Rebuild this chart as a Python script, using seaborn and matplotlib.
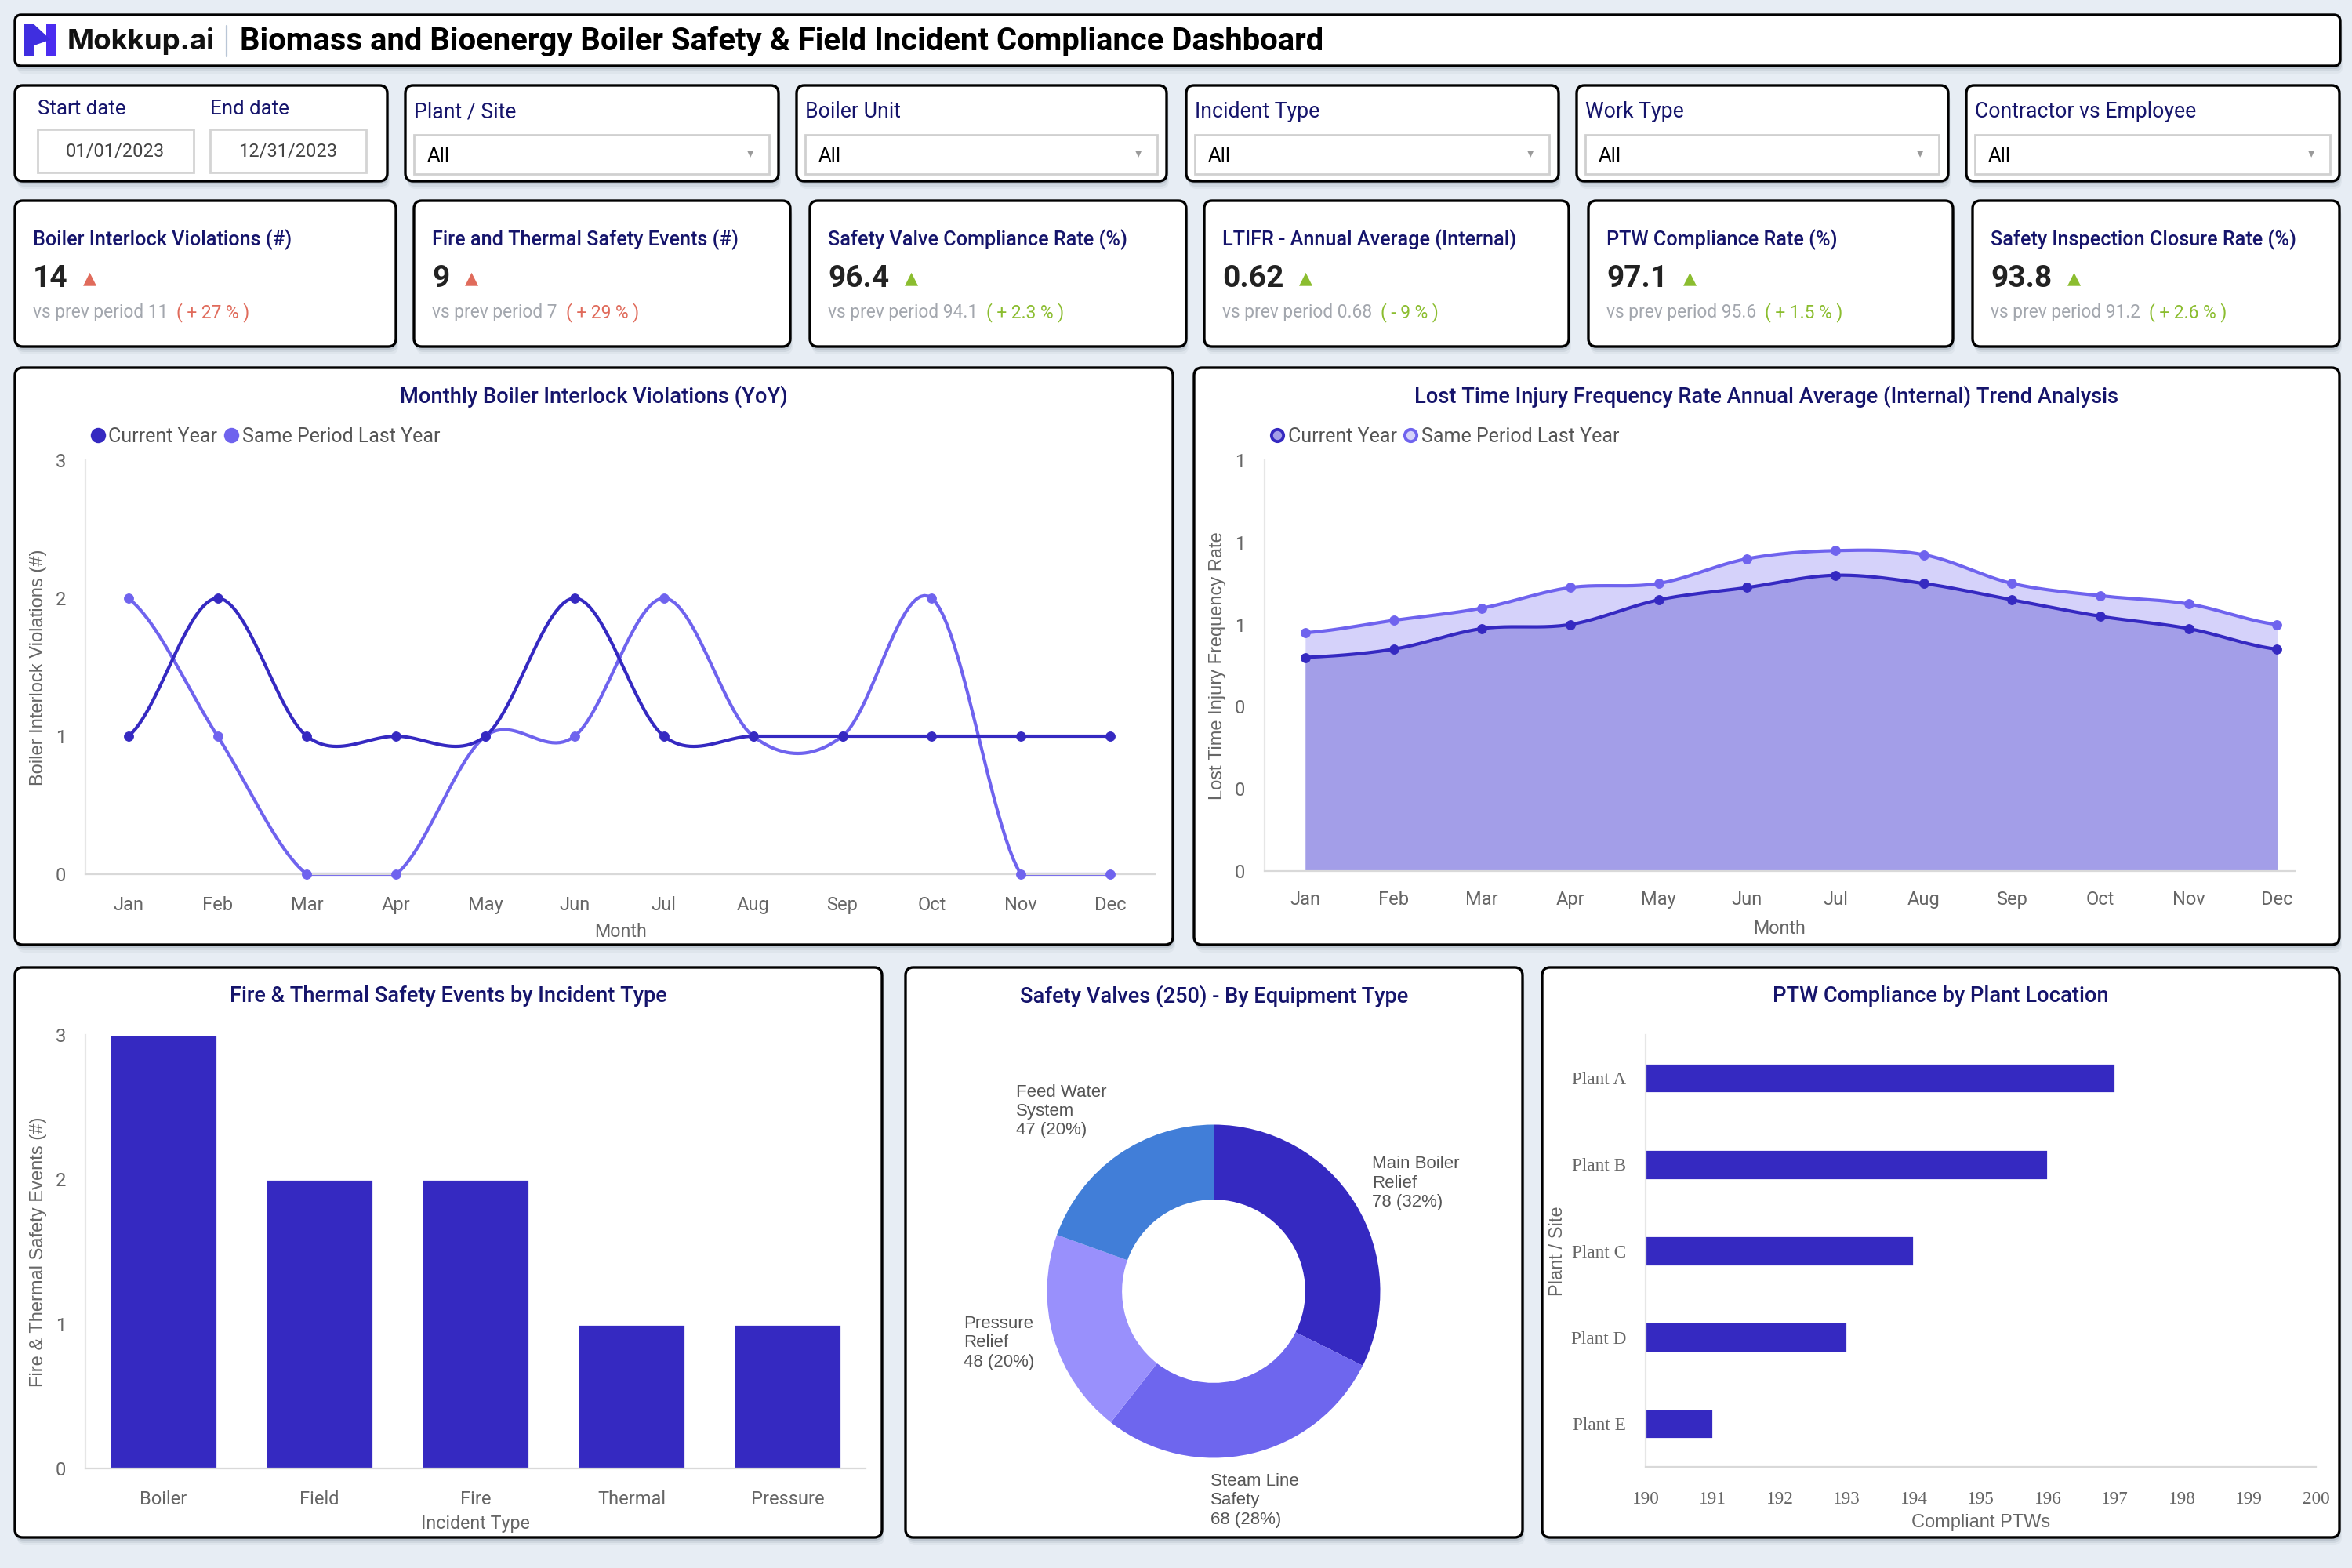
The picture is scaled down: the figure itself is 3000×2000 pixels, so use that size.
import numpy as np
import pandas as pd
import matplotlib
matplotlib.use("Agg")
import matplotlib.pyplot as plt
import seaborn as sns
from matplotlib.patches import FancyBboxPatch, Polygon, Rectangle
from matplotlib.lines import Line2D

sns.set_theme(style="white")
plt.rcParams["font.family"] = ["Roboto", "DejaVu Sans"]

# ---------------------------------------------------------------- data
months = ["Jan", "Feb", "Mar", "Apr", "May", "Jun", "Jul", "Aug", "Sep", "Oct", "Nov", "Dec"]
interlock_cur = [1, 2, 1, 1, 1, 2, 1, 1, 1, 1, 1, 1]
interlock_prev = [2, 1, 0, 0, 1, 1, 2, 1, 1, 2, 0, 0]
ltifr_cur = [0.52, 0.54, 0.59, 0.60, 0.66, 0.69, 0.72, 0.70, 0.66, 0.62, 0.59, 0.54]
ltifr_prev = [0.58, 0.61, 0.64, 0.69, 0.70, 0.76, 0.78, 0.77, 0.70, 0.67, 0.65, 0.60]
incident_types = ["Boiler", "Field", "Fire", "Thermal", "Pressure"]
incident_events = [3, 2, 2, 1, 1]
valve_types = ["Main Boiler\nRelief", "Steam Line\nSafety", "Pressure\nRelief", "Feed Water\nSystem"]
valve_counts = [78, 68, 48, 47]
plants = ["Plant A", "Plant B", "Plant C", "Plant D", "Plant E"]
ptw_compliant = [197, 196, 194, 193, 191]

kpi_titles = ["Boiler Interlock Violations (#)", "Fire and Thermal Safety Events (#)",
              "Safety Valve Compliance Rate (%)", "LTIFR - Annual Average (Internal)",
              "PTW Compliance Rate (%)", "Safety Inspection Closure Rate (%)"]
kpi_values = ["14", "9", "96.4", "0.62", "97.1", "93.8"]
kpi_prev = ["11", "7", "94.1", "0.68", "95.6", "91.2"]
kpi_delta = ["+ 27 %", "+ 29 %", "+ 2.3 %", "- 9 %", "+ 1.5 %", "+ 2.6 %"]
kpi_good = [False, False, True, True, True, True]
filter_labels = ["Plant / Site", "Boiler Unit", "Incident Type", "Work Type", "Contractor vs Employee"]
start_date, end_date = "01/01/2023", "12/31/2023"

# ---------------------------------------------------------------- style
BG = "#e7edf4"
NAVY = "#15146b"
GREY = "#666666"
C_CUR = "#3529c1"
C_PREV = "#6f63ee"
RED = "#e06b5b"
GREEN = "#8bbd2f"
SANS = ["Liberation Sans", "DejaVu Sans"]
SERIF = ["Liberation Serif", "DejaVu Serif"]
W, H = 3000, 2000

fig = plt.figure(figsize=(15, 10), dpi=200)
fig.patch.set_facecolor(BG)
bg = fig.add_axes([0, 0, 1, 1])
bg.set_xlim(0, W)
bg.set_ylim(H, 0)
bg.axis("off")
bg.set_zorder(0)


def rect(x0, y0, x1, y1):
    return [x0 / W, 1 - y1 / H, (x1 - x0) / W, (y1 - y0) / H]


def card(x0, y0, x1, y1, r=10):
    for dx, dy, a in [(3, 10, 0.07), (2, 7, 0.12), (1, 4, 0.2)]:
        bg.add_patch(FancyBboxPatch((x0 + dx, y0 + dy), x1 - x0, y1 - y0,
                                    boxstyle=f"round,pad=0,rounding_size={r}",
                                    fc="#6f7c8c", ec="none", alpha=a, zorder=1))
    bg.add_patch(FancyBboxPatch((x0, y0), x1 - x0, y1 - y0,
                                boxstyle=f"round,pad=0,rounding_size={r}",
                                fc="white", ec="black", lw=1.2, zorder=2))


def smooth(vals, n=24):
    # catmull-rom style spline through the points (display only)
    y = np.asarray(vals, float)
    p = np.concatenate([[y[0]], y, [y[-1]]])
    xs, ys = [], []
    t = np.linspace(0, 1, n, endpoint=False)
    for i in range(len(y) - 1):
        p0, p1, p2, p3 = p[i], p[i + 1], p[i + 2], p[i + 3]
        m1, m2 = (p2 - p0) / 2, (p3 - p1) / 2
        h00 = 2 * t**3 - 3 * t**2 + 1
        h10 = t**3 - 2 * t**2 + t
        h01 = -2 * t**3 + 3 * t**2
        h11 = t**3 - t**2
        xs.append(i + t)
        ys.append(h00 * p1 + h10 * m1 + h01 * p2 + h11 * m2)
    xs.append([len(y) - 1])
    ys.append([y[-1]])
    return np.concatenate(xs), np.concatenate(ys)


def style_axes(ax):
    ax.set_facecolor("none")
    for s in ["top", "right"]:
        ax.spines[s].set_visible(False)
    ax.spines["left"].set_color("#e6e6e6")
    ax.spines["bottom"].set_color("#d9d9d9")
    ax.spines["left"].set_linewidth(0.8)
    ax.spines["bottom"].set_linewidth(0.8)
    ax.grid(False)
    ax.tick_params(length=0, labelsize=8.5, labelcolor=GREY)


# ---------------------------------------------------------------- header
card(19, 19, 2985, 84, r=8)
lx, ly, ls = 31, 31, 41
bg.add_patch(Rectangle((lx + 0.68 * ls, ly), 0.32 * ls, ls, fc="#4b2cf0", ec="none", zorder=3))
bg.add_patch(Polygon([(lx, ly), (lx + 0.3 * ls, ly), (lx + 0.82 * ls, ly + 0.48 * ls),
                      (lx + 0.3 * ls, ly + 0.66 * ls), (lx + 0.3 * ls, ly + ls), (lx, ly + ls)],
                     closed=True, fc="#3f2ee0", ec="none", zorder=4))
bg.text(86, 53, "Mokkup.ai", fontsize=13.2, fontweight="bold", family=["Inter", "Roboto"],
        color="#111111", va="center", ha="left", zorder=5)
bg.plot([289, 289], [33, 72], color="#b9c6d6", lw=0.8, zorder=5)
bg.text(306, 53, "Biomass and Bioenergy Boiler Safety & Field Incident Compliance Dashboard",
        fontsize=14.4, fontweight="bold", color="black", va="center", ha="left", zorder=5)

# ---------------------------------------------------------------- filters
card(19, 109, 494, 231)
bg.text(48, 139, "Start date", fontsize=9.3, color=NAVY, va="center", zorder=5)
bg.text(268, 139, "End date", fontsize=9.3, color=NAVY, va="center", zorder=5)
for x0, label in [(48, start_date), (268, end_date)]:
    bg.add_patch(Rectangle((x0, 165), 199, 55, fc="white", ec="#d4d4d4", lw=1.0, zorder=3))
    bg.text(x0 + 99, 193, label, fontsize=8.5, color="#444444", ha="center", va="center", zorder=5)

filter_x = [(517, 993), (1016, 1488), (1513, 1988), (2011, 2485), (2508, 2984)]
for (x0, x1), label in zip(filter_x, filter_labels):
    card(x0, 109, x1, 231)
    bg.text(x0 + 11, 143, label, fontsize=9.6, color=NAVY, va="center", zorder=5)
    bg.add_patch(Rectangle((x0 + 11, 172), x1 - x0 - 23, 50, fc="white", ec="#d0d0d0", lw=1.0, zorder=3))
    bg.text(x0 + 28, 199, "All", fontsize=9.2, color="black", va="center", zorder=5)
    bg.text(x1 - 36, 196, "▾", fontsize=6, color="#9a9a9a", va="center", ha="center",
            family=["DejaVu Sans"], zorder=5)

# ---------------------------------------------------------------- KPI cards
kpi_x = [(19, 505), (528, 1008), (1033, 1513), (1536, 2001), (2026, 2491), (2516, 2984)]
for i, (x0, x1) in enumerate(kpi_x):
    card(x0, 256, x1, 442)
    col = GREEN if kpi_good[i] else RED
    bg.text(x0 + 23, 306, kpi_titles[i], fontsize=9.1, fontweight="medium", color=NAVY,
            va="center", zorder=5)
    v = bg.text(x0 + 23, 355, kpi_values[i], fontsize=14, fontweight="bold", color="#222222",
                va="center", zorder=5)
    bg.annotate("▲", xy=(1, 0.5), xycoords=v, xytext=(7, 0), textcoords="offset points",
                fontsize=8, color=col, va="center", ha="left", family=["DejaVu Sans"], zorder=5)
    s = bg.text(x0 + 23, 399, f"vs prev period {kpi_prev[i]}", fontsize=8.2,
                color="#a3a7ae", va="center", zorder=5)
    bg.annotate(f"( {kpi_delta[i]} )", xy=(1, 0.5), xycoords=s, xytext=(4, 0),
                textcoords="offset points", fontsize=8.2, color=col, va="center", ha="left", zorder=5)

# ---------------------------------------------------------------- chart panels
panels = [(19, 469, 1496, 1205), (1523, 469, 2984, 1205),
          (19, 1234, 1125, 1961), (1155, 1234, 1942, 1961), (1967, 1234, 2984, 1961)]
titles = ["Monthly Boiler Interlock Violations (YoY)",
          "Lost Time Injury Frequency Rate Annual Average (Internal) Trend Analysis",
          "Fire & Thermal Safety Events by Incident Type",
          "Safety Valves (250) - By Equipment Type",
          "PTW Compliance by Plant Location"]
for (x0, y0, x1, y1), t in zip(panels, titles):
    card(x0, y0, x1, y1)
    bg.text((x0 + x1) / 2, y0 + 37, t, fontsize=9.8, fontweight="medium", color=NAVY,
            ha="center", va="center", zorder=5)

# ---- monthly interlock violations
ax1 = fig.add_axes(rect(109, 587, 1473, 1115))
style_axes(ax1)
for vals, c in [(interlock_prev, C_PREV), (interlock_cur, C_CUR)]:
    sx, sy = smooth(vals)
    sy = np.maximum(sy, 0)
    sns.lineplot(x=sx, y=sy, ax=ax1, color=c, lw=1.5, sort=False, estimator=None, clip_on=False)
    sns.scatterplot(x=np.arange(len(months)), y=vals, ax=ax1, color=c, s=18,
                    edgecolor=c, zorder=4, clip_on=False)
ax1.set_xlim(-0.48, 11.5)
ax1.set_ylim(0, 3)
ax1.set_yticks([0, 1, 2, 3])
ax1.set_xticks(range(len(months)))
ax1.set_xticklabels(months)
ax1.tick_params(axis="x", pad=10)
ax1.tick_params(axis="y", pad=9)
ax1.set_xlabel("Month", fontsize=8.4, color=GREY, labelpad=4)
ax1.set_ylabel("Boiler Interlock Violations (#)", fontsize=8.5, color=GREY, family=SANS, labelpad=4)
h1 = [Line2D([], [], marker="o", ls="none", color=C_CUR, markersize=6),
      Line2D([], [], marker="o", ls="none", color=C_PREV, markersize=6)]
ax1.legend(h1, ["Current Year", "Same Period Last Year"], loc="lower left",
           bbox_to_anchor=(-0.005, 1.015), ncol=2, frameon=False, handletextpad=0.05,
           columnspacing=0.2, borderaxespad=0, fontsize=9, labelcolor="#555555", handlelength=1)

# ---- LTIFR trend
ax2 = fig.add_axes(rect(1613, 587, 2927, 1111))
style_axes(ax2)
sxp, syp = smooth(ltifr_prev)
sxc, syc = smooth(ltifr_cur)
ax2.fill_between(sxp, syp, 0, color="#d5d2fa", lw=0)
ax2.fill_between(sxc, syc, 0, color="#a39ee8", lw=0)
for sx, sy, vals, c in [(sxp, syp, ltifr_prev, C_PREV), (sxc, syc, ltifr_cur, C_CUR)]:
    sns.lineplot(x=sx, y=sy, ax=ax2, color=c, lw=1.5, sort=False, estimator=None)
    sns.scatterplot(x=np.arange(len(months)), y=vals, ax=ax2, color=c, s=18,
                    edgecolor=c, zorder=4)
ax2.set_xlim(-0.46, 11.2)
ax2.set_ylim(0, 1.0)
yt = np.arange(0, 1.01, 0.2)
ax2.set_yticks(yt)
ax2.set_yticklabels([f"{v:.0f}" for v in yt])
ax2.set_xticks(range(len(months)))
ax2.set_xticklabels(months)
ax2.tick_params(axis="x", pad=9)
ax2.tick_params(axis="y", pad=9)
ax2.set_xlabel("Month", fontsize=8.4, color=GREY, labelpad=5)
ax2.set_ylabel("Lost Time Injury Frequency Rate", fontsize=8.5, color=GREY, family=SANS, labelpad=4)
h2 = [Line2D([], [], marker="o", ls="none", mfc="#a39ee8", mec=C_CUR, mew=1.4, markersize=5.5),
      Line2D([], [], marker="o", ls="none", mfc="#d5d2fa", mec=C_PREV, mew=1.4, markersize=5.5)]
ax2.legend(h2, ["Current Year", "Same Period Last Year"], loc="lower left",
           bbox_to_anchor=(-0.005, 1.015), ncol=2, frameon=False, handletextpad=0.05,
           columnspacing=0.2, borderaxespad=0, fontsize=9, labelcolor="#555555", handlelength=1)

# ---- incident type bars
ax3 = fig.add_axes(rect(109, 1320, 1104, 1873))
style_axes(ax3)
sns.barplot(x=incident_types, y=incident_events, ax=ax3, color=C_CUR, saturation=1, width=0.69)
ax3.set_xlim(-0.5, 4.5)
ax3.set_ylim(0, 3)
ax3.set_yticks([0, 1, 2, 3])
ax3.tick_params(axis="x", pad=10)
ax3.tick_params(axis="y", pad=9)
ax3.set_xlabel("Incident Type", fontsize=8.4, color=GREY, labelpad=3)
ax3.set_ylabel("Fire & Thermal Safety Events (#)", fontsize=8.5, color=GREY, family=SANS, labelpad=4)

# ---- safety valve donut
R_PX = 213
cx, cy, half = 1548, 1647, int(R_PX * 1.6)
ax4 = fig.add_axes(rect(cx - half, cy - half, cx + half, cy + half))
ax4.set_facecolor("none")
wedges, _ = ax4.pie(valve_counts, colors=[C_CUR, "#6e66ee", "#9990fc", "#417ed8"],
                    startangle=90, counterclock=False,
                    wedgeprops=dict(width=0.45, edgecolor="none"))
total = sum(valve_counts)
for w, name, cnt in zip(wedges, valve_types, valve_counts):
    ang = np.deg2rad((w.theta1 + w.theta2) / 2)
    ca, sa = np.cos(ang), np.sin(ang)
    ha = "left" if ca > 0.4 else ("right" if ca < -0.4 else "center")
    va = "top" if sa < -0.8 else ("bottom" if sa > 0.8 else "center")
    r = 1.12
    ax4.text(r * ca, r * sa + (0.06 if va == "center" and sa > 0 else 0),
             f"{name}\n{cnt} ({cnt / total * 100:.0f}%)", ha=ha, va=va, multialignment="left",
             fontsize=8, color="#555555", family=SANS, linespacing=1.2)
ax4.set_xlim(-1.6, 1.6)
ax4.set_ylim(-1.6, 1.6)
ax4.set_aspect("equal")
ax4.axis("off")

# ---- PTW compliance
ax5 = fig.add_axes(rect(2099, 1320, 2954, 1871))
style_axes(ax5)
sns.barplot(x=ptw_compliant, y=plants, orient="h", ax=ax5, color=C_CUR, saturation=1, width=0.35)
ax5.set_xlim(190, 200)
ax5.set_ylim(4.5, -0.5)
ax5.set_xticks(range(190, 201))
for lab in ax5.get_xticklabels() + ax5.get_yticklabels():
    lab.set_family(SERIF)
    lab.set_fontsize(8.4)
ax5.tick_params(axis="x", pad=11)
ax5.tick_params(axis="y", pad=9)
ax5.set_xlabel("Compliant PTWs", fontsize=8.5, color=GREY, family=SANS, labelpad=3)
ax5.set_ylabel("Plant / Site", fontsize=8.5, color=GREY, family=SANS, labelpad=2)

fig.savefig("out.png", dpi=200, facecolor=BG)
